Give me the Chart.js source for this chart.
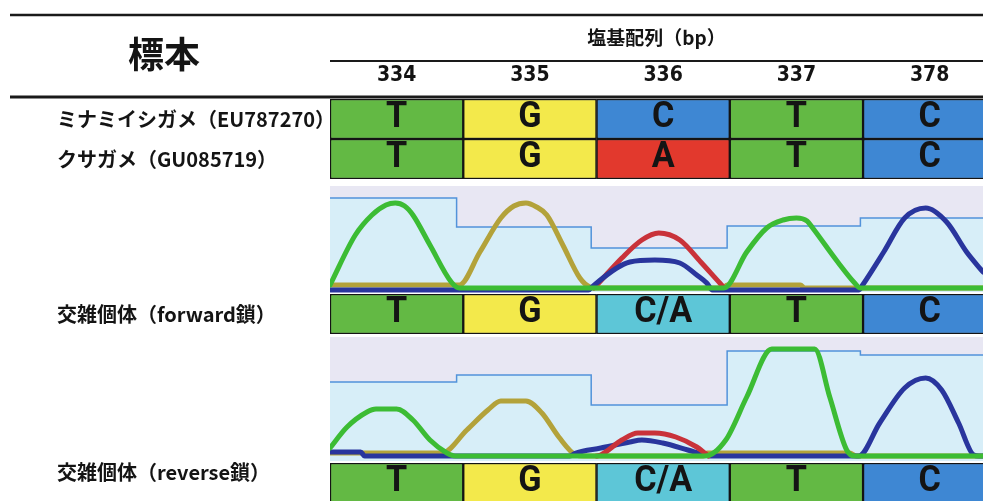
<!DOCTYPE html>
<html>
<head>
<meta charset="utf-8">
<script src="https://cdn.jsdelivr.net/npm/chart.js@4/dist/chart.umd.min.js"></script>
<style>
  html, body { margin: 0; padding: 0; background: #fff; overflow: hidden; }
  canvas { display: block; }
</style>
</head>
<body>
<canvas id="chart" width="983" height="501"></canvas>
<script>
// Column headers: base positions (bp)
const positions = ['334', '335', '336', '337', '378'];

// Row labels
const sampleNames = [
  'ミナミイシガメ（EU787270）',
  'クサガメ（GU085719）',
  '交雑個体（forward鎖）',
  '交雑個体（reverse鎖）'
];

// Base calls per row
const callsEU787270 = ['T', 'G', 'C', 'T', 'C'];
const callsGU085719 = ['T', 'G', 'A', 'T', 'C'];
const callsForward  = ['T', 'G', 'C/A', 'T', 'C'];
const callsReverse  = ['T', 'G', 'C/A', 'T', 'C'];

// Quality bars under the traces: value per base and where each one starts
const qualityEdges   = [-0.5, 0.45, 1.46, 2.48, 3.48, 4.4];
const forwardQuality = [90, 61, 40, 62, 70];
const reverseQuality = [74, 81, 51, 105, 101];

// Forward strand traces: [position, signal]
const fwdTraceT = [[-0.5, 3], [-0.31, 53], [-0.185, 73], [-0.08, 83], [-0.01, 85], [0.06, 82], [0.122, 73], [0.25, 43], [0.41, 6], [0.47, 0],
                   [2.455, 0], [2.627, 36], [2.777, 60], [2.9, 68], [3.0, 70], [3.08, 67], [3.122, 60], [3.31, 26], [3.437, 5], [3.48, 0], [4.4, 0]];
const fwdTraceG = [[-0.5, 3], [0.44, 3], [0.47, 3], [0.625, 36], [0.782, 70], [0.88, 82], [0.97, 85], [1.05, 81], [1.127, 73], [1.247, 43], [1.375, 10], [1.45, 1], [1.5, 0],
                   [2.45, 0], [2.48, 3], [3.03, 3], [3.06, 0], [4.4, 0]];
const fwdTraceA = [[1.48, 0], [1.502, 3], [1.69, 30], [1.84, 48], [1.967, 55], [2.125, 48], [2.282, 26], [2.425, 5], [2.46, 0]];
const fwdTraceC = [[-0.5, -2], [1.44, -2], [1.465, 1], [1.652, 20], [1.75, 26], [1.937, 28], [2.125, 25], [2.252, 13], [2.327, 5], [2.37, -2],
                   [3.47, -2], [3.497, 3], [3.655, 36], [3.812, 70], [3.97, 80], [4.127, 66], [4.277, 36], [4.4, 16]];

// Reverse strand traces: [position, signal]
const revTraceT = [[-0.5, 8], [-0.372, 29], [-0.222, 44], [-0.155, 47], [0.0, 47], [0.122, 36], [0.25, 16], [0.377, 3], [0.44, 0],
                   [2.312, 0], [2.47, 16], [2.627, 59], [2.815, 107], [3.137, 107], [3.25, 59], [3.377, 6], [3.437, 0], [4.4, 0]];
const revTraceG = [[-0.5, 3], [0.34, 3], [0.527, 26], [0.685, 46], [0.782, 55], [0.97, 55], [1.09, 43], [1.217, 19], [1.345, 1], [1.4, 0],
                   [2.3, 0], [2.33, 3], [3.4, 3], [3.45, 0], [4.4, 0]];
const revTraceA = [[1.5, 0], [1.532, 1], [1.69, 16], [1.81, 23], [1.937, 23], [2.095, 19], [2.252, 9], [2.312, 3], [2.34, 0]];
const revTraceC = [[-0.5, 4], [-0.27, 4], [-0.24, 0], [1.3, 0], [1.345, 3], [1.532, 8], [1.75, 14], [1.84, 16], [1.997, 13], [2.185, 6], [2.312, 1], [2.35, 0],
                   [3.467, 0], [3.625, 33], [3.812, 68], [3.97, 78], [4.09, 66], [4.217, 33], [4.33, 1], [4.37, 0], [4.4, 0]];

// ---- styling ----
const cellColors = { 'T': '#63b944', 'G': '#f3e94b', 'C': '#3e87d3', 'A': '#e2392d', 'C/A': '#5dc6d7' };
const traceColors = { T: '#3cbc34', G: '#b3a23a', C: '#29359d', A: '#c9323a' };
const INK = '#141414';
const JP = "'Noto Sans CJK JP', 'Noto Sans', sans-serif";

function cellDataset(calls, yAxisID) {
  return {
    type: 'bar', yAxisID, calls, grouped: false,
    data: calls.map((c, i) => ({ x: i, y: [0, 1] })),
    backgroundColor: calls.map(c => cellColors[c]),
    borderColor: INK, borderWidth: 1.5, borderSkipped: false,
    categoryPercentage: 1, barPercentage: 1, order: 0
  };
}
function traceDataset(points, base, yAxisID, order) {
  return {
    type: 'line', yAxisID, data: points, borderColor: traceColors[base], borderWidth: 5,
    pointRadius: 0, cubicInterpolationMode: 'monotone', borderJoinStyle: 'round', borderCapStyle: 'round',
    fill: false, order
  };
}
function qualityDataset(values, yAxisID, floor) {
  const pts = qualityEdges.map((x, i) => [x, values[Math.min(i, values.length - 1)]]);
  return {
    type: 'line', yAxisID, data: pts, stepped: 'before', borderColor: '#5293da', borderWidth: 1.5,
    backgroundColor: '#d7eef8', fill: { value: floor }, pointRadius: 0, order: 5
  };
}
function panelDataset(top, floor, yAxisID) {
  return {
    type: 'line', yAxisID, data: [[-0.5, top], [4.4, top]], borderWidth: 0, borderColor: 'rgba(0,0,0,0)',
    backgroundColor: '#e8e7f3', fill: { value: floor }, pointRadius: 0, order: 6
  };
}

// Stacked bands on the left side, top to bottom (higher weight sits higher)
function band(stackWeight, weight, min, max, label, labelAt) {
  const s = {
    type: 'linear', position: 'left', stack: 'rows', stackWeight, weight, min, max,
    grid: { display: false }, border: { display: false },
    ticks: { display: false },
    afterFit(scale) { scale.width = 273; scale.paddingTop = 0; scale.paddingBottom = 0; }
  };
  if (label !== undefined) {
    s.ticks = { display: true, crossAlign: 'far', padding: 0, color: INK,
                font: { family: JP, size: 20, weight: 'bold' }, callback: () => label };
    s.afterBuildTicks = scale => { scale.ticks = [{ value: labelAt }]; };
  }
  return s;
}

const tableDecor = {
  id: 'tableDecor',
  afterDatasetsDraw(chart) {
    const ctx = chart.ctx;
    chart.data.datasets.forEach((ds, di) => {
      if (!ds.calls) return;
      const meta = chart.getDatasetMeta(di);
      const cy = chart.scales[ds.yAxisID].getPixelForValue(0.5);
      meta.data.forEach((bar, i) => {
        ctx.save();
        ctx.font = "bold 36px Roboto, 'Liberation Sans', sans-serif";
        ctx.fillStyle = INK;
        ctx.textAlign = 'center';
        ctx.textBaseline = 'middle';
        ctx.translate(bar.x, cy - 1);
        ctx.scale(0.95, 1);
        ctx.fillText(ds.calls[i], 0, 0);
        ctx.restore();
      });
    });
  },
  afterDraw(chart) {
    const ctx = chart.ctx;
    const area = chart.chartArea;
    ctx.save();
    ctx.strokeStyle = '#1a1a1a';
    ctx.lineWidth = 2.5;
    ctx.beginPath(); ctx.moveTo(10, 15); ctx.lineTo(area.right, 15); ctx.stroke();
    ctx.lineWidth = 2;
    ctx.beginPath(); ctx.moveTo(area.left, 61); ctx.lineTo(area.right, 61); ctx.stroke();
    ctx.lineWidth = 3;
    ctx.beginPath(); ctx.moveTo(10, 97); ctx.lineTo(area.right, 97); ctx.stroke();
    ctx.fillStyle = INK;
    ctx.font = 'bold 36px ' + JP;
    ctx.textAlign = 'center';
    ctx.textBaseline = 'middle';
    ctx.fillText('標本', 164, 54);
    ctx.restore();
  }
};

new Chart(document.getElementById('chart'), {
  type: 'bar',
  data: {
    datasets: [
      cellDataset(callsEU787270, 'yRef1'),
      cellDataset(callsGU085719, 'yRef2'),
      cellDataset(callsForward, 'yFwd'),
      cellDataset(callsReverse, 'yRev'),

      traceDataset(fwdTraceT, 'T', 'yFwdTrace', 1),
      traceDataset(fwdTraceC, 'C', 'yFwdTrace', 2),
      traceDataset(fwdTraceA, 'A', 'yFwdTrace', 3),
      traceDataset(fwdTraceG, 'G', 'yFwdTrace', 4),
      qualityDataset(forwardQuality, 'yFwdTrace', -4),
      panelDataset(102, -4, 'yFwdTrace'),

      traceDataset(revTraceT, 'T', 'yRevTrace', 1),
      traceDataset(revTraceA, 'A', 'yRevTrace', 2),
      traceDataset(revTraceC, 'C', 'yRevTrace', 3),
      traceDataset(revTraceG, 'G', 'yRevTrace', 4),
      qualityDataset(reverseQuality, 'yRevTrace', -5),
      panelDataset(119, -5, 'yRevTrace')
    ]
  },
  options: {
    responsive: false,
    animation: false,
    devicePixelRatio: 1,
    events: [],
    layout: { padding: { left: 57, top: 0, right: 0, bottom: 0 } },
    plugins: { legend: { display: false }, tooltip: { enabled: false } },
    scales: {
      x: {
        type: 'linear', position: 'top', min: -0.5, max: 4.4, offset: false,
        grid: { display: false, offset: false, drawTicks: false }, border: { display: false },
        afterBuildTicks(scale) { scale.ticks = positions.map((p, i) => ({ value: i })); },
        afterFit(scale) { scale.height = 99; scale.paddingLeft = 0; scale.paddingRight = 0; },
        ticks: {
          autoSkip: false, maxRotation: 0, padding: 11, color: INK,
          font: { family: "'Liberation Sans Narrow', 'DejaVu Sans Condensed', Roboto, sans-serif", size: 21, weight: 'bold' },
          callback: (v) => positions[v]
        },
        title: {
          display: true, text: '塩基配列（bp）', color: INK,
          font: { family: JP, size: 19, weight: 'bold' },
          padding: { top: 26, bottom: 0 }
        }
      },
      yRef1:     band(40, 60, 0, 1, sampleNames[0], 0.5),
      yRef2:     band(40, 50, 0, 1, sampleNames[1], 0.5),
      yFwdTrace: band(115, 40, -6, 109),
      yFwd:      band(40, 30, 0, 1, sampleNames[2], 0.5),
      yRevTrace: band(129, 20, -7, 122),
      yRev:      band(38, 10, 0.05, 1, sampleNames[3], 0.775)
    }
  },
  plugins: [tableDecor]
});
</script>
</body>
</html>
